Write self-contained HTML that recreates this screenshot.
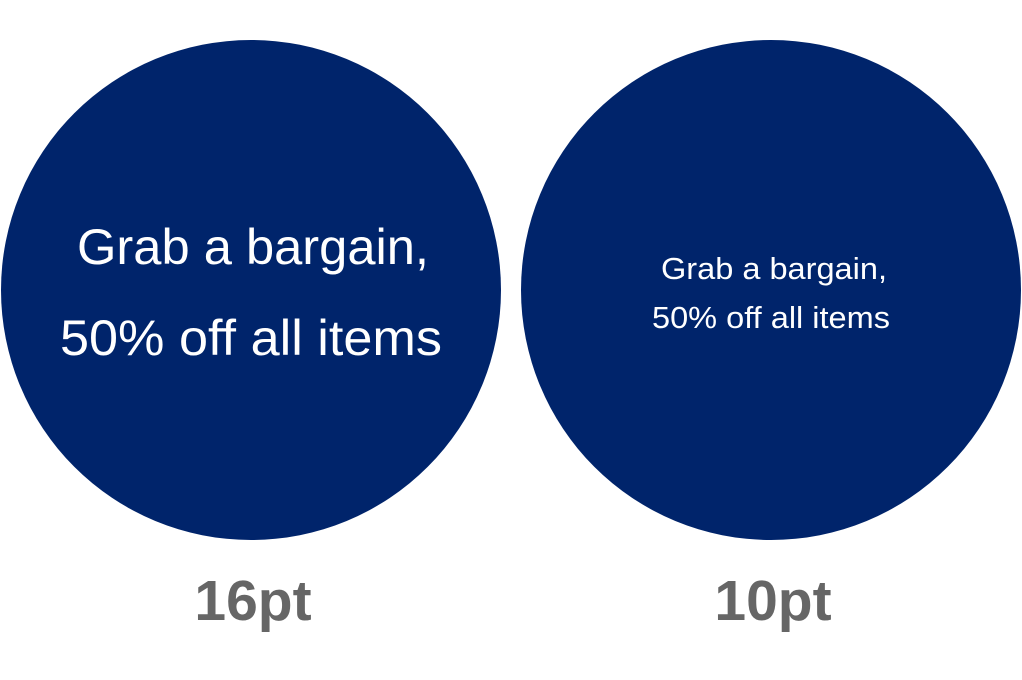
<!DOCTYPE html>
<html><head><meta charset="utf-8"><style>
html,body{margin:0;padding:0;background:#fff;width:1022px;height:680px;overflow:hidden}
svg{display:block}
</style></head><body>
<svg width="1022" height="680" viewBox="0 0 1022 680">
  <circle cx="251" cy="290" r="250" fill="#00246B"/>
  <circle cx="771" cy="290" r="250" fill="#00246B"/>
  <g font-family="Liberation Sans, DejaVu Sans, sans-serif" fill="#fff" text-anchor="middle">
    <text x="253" y="264" font-size="50" textLength="352" lengthAdjust="spacingAndGlyphs">Grab a bargain,</text>
    <text x="251" y="355" font-size="50" textLength="382" lengthAdjust="spacingAndGlyphs">50% off all items</text>
    <text x="774" y="279" font-size="31" textLength="226" lengthAdjust="spacingAndGlyphs">Grab a bargain,</text>
    <text x="771" y="328" font-size="31" textLength="238" lengthAdjust="spacingAndGlyphs">50% off all items</text>
  </g>
  <g font-family="Liberation Sans, DejaVu Sans, sans-serif" fill="#666" font-weight="bold" text-anchor="middle" font-size="57">
    <text x="253" y="620">16pt</text>
    <text x="773" y="620">10pt</text>
  </g>
</svg>
</body></html>
